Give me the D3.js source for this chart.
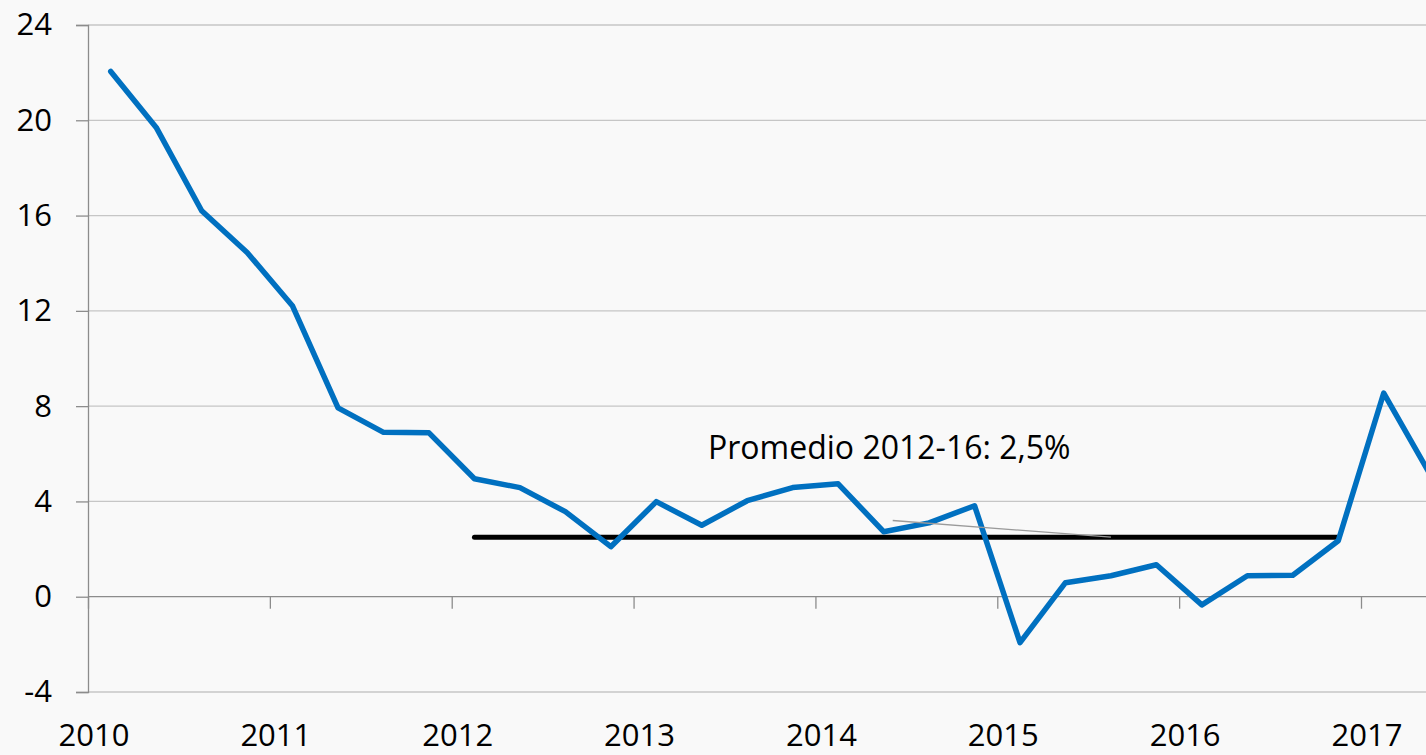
<!DOCTYPE html>
<html>
<head>
<meta charset="utf-8">
<script src="https://cdn.jsdelivr.net/npm/d3@7"></script>
<style>
  body { margin: 0; background: #f9f9f9; overflow: hidden; }
  svg { display: block; }
</style>
</head>
<body>
<div id="chart"></div>
<script>
// quarterly values, Q1 2010 .. Q2 2017
var values = [22.05, 19.7, 16.2, 14.45,
              12.2, 7.93, 6.9, 6.88,
              4.95, 4.58, 3.57, 2.1,
              3.99, 3.0, 4.03, 4.58,
              4.74, 2.73, 3.1, 3.82,
              -1.93, 0.59, 0.88, 1.34,
              -0.34, 0.88, 0.9, 2.35,
              8.55, 5.2];
var years = [2010, 2011, 2012, 2013, 2014, 2015, 2016, 2017];
var yTicks = [-4, 0, 4, 8, 12, 16, 20, 24];
var average = 2.5;
var averageFrom = 8, averageTo = 27;   // quarter indexes, 2012Q1 .. 2016Q4
var labelText = 'Promedio 2012-16: 2,5%';
var leader = [{ q: 17.2, v: 3.2 }, { q: 22.0, v: 2.5 }];

const W = 1426, H = 755;
const font = "'Open Sans', sans-serif";

var svg = d3.select('#chart')
    .append('svg')
    .attr('width', W)
    .attr('height', H);

svg.append('rect')
    .attr('width', W)
    .attr('height', H)
    .attr('fill', '#f9f9f9');

var x = d3.scaleLinear().domain([2010, 2017]).range([88, 1361]);
var y = d3.scaleLinear().domain([-4, 24]).range([692, 25]);
var qx = (i) => x(2010 + (i + 0.5) / 4);

// gridlines
svg.selectAll('.grid')
    .data(yTicks)
    .enter()
    .append('line')
    .attr('class', 'grid')
    .attr('x1', x(2010))
    .attr('x2', W)
    .attr('y1', d => y(d))
    .attr('y2', d => y(d))
    .attr('stroke', d => d == 0 ? '#8c8c8c' : '#c6c6c6')
    .attr('stroke-width', 1.3);

// y axis (plain hyphen for negatives, like the original)
var yAxis = svg.append('g')
    .attr('transform', 'translate(' + x(2010) + ',0)')
    .call(d3.axisLeft(y).tickValues(yTicks).tickSize(12).tickPadding(24)
        .tickFormat(d => String(d)));
yAxis.select('.domain').attr('stroke', '#8c8c8c').attr('stroke-width', 1.3);
yAxis.selectAll('.tick line').attr('stroke', '#8c8c8c').attr('stroke-width', 1.3);
yAxis.selectAll('.tick text')
    .attr('font-family', font)
    .attr('font-size', '31px')
    .attr('fill', '#000');

// x ticks on the zero line
var xAxis = svg.append('g')
    .attr('transform', 'translate(0,' + y(0) + ')')
    .call(d3.axisBottom(x).tickValues(years).tickSize(12).tickFormat(''));
xAxis.select('.domain').remove();
xAxis.selectAll('.tick line').attr('stroke', '#8c8c8c').attr('stroke-width', 1.3);

// year labels at the bottom
svg.selectAll('.year')
    .data(years)
    .enter()
    .append('text')
    .attr('class', 'year')
    .attr('x', d => x(d) + 6)
    .attr('y', 746)
    .attr('text-anchor', 'middle')
    .attr('font-family', font)
    .attr('font-size', '31px')
    .attr('fill', '#000')
    .text(d => d);

// average line
svg.append('line')
    .attr('x1', qx(averageFrom))
    .attr('x2', qx(averageTo))
    .attr('y1', y(average))
    .attr('y2', y(average))
    .attr('stroke', '#000')
    .attr('stroke-width', 5)
    .attr('stroke-linecap', 'round');

// series
var line = d3.line()
    .x((d, i) => qx(i))
    .y(d => y(d));

svg.append('path')
    .datum(values)
    .attr('d', line)
    .attr('fill', 'none')
    .attr('stroke', '#0070c0')
    .attr('stroke-width', 5.5)
    .attr('stroke-linejoin', 'round')
    .attr('stroke-linecap', 'round');

// thin leader line
svg.append('line')
    .attr('x1', qx(leader[0].q))
    .attr('y1', y(leader[0].v))
    .attr('x2', qx(leader[1].q))
    .attr('y2', y(leader[1].v))
    .attr('stroke', '#9a9a9a')
    .attr('stroke-width', 1.3);

svg.append('text')
    .attr('x', 708)
    .attr('y', 459)
    .attr('font-family', font)
    .attr('font-size', '32px')
    .attr('fill', '#000')
    .text(labelText);
</script>
</body>
</html>
